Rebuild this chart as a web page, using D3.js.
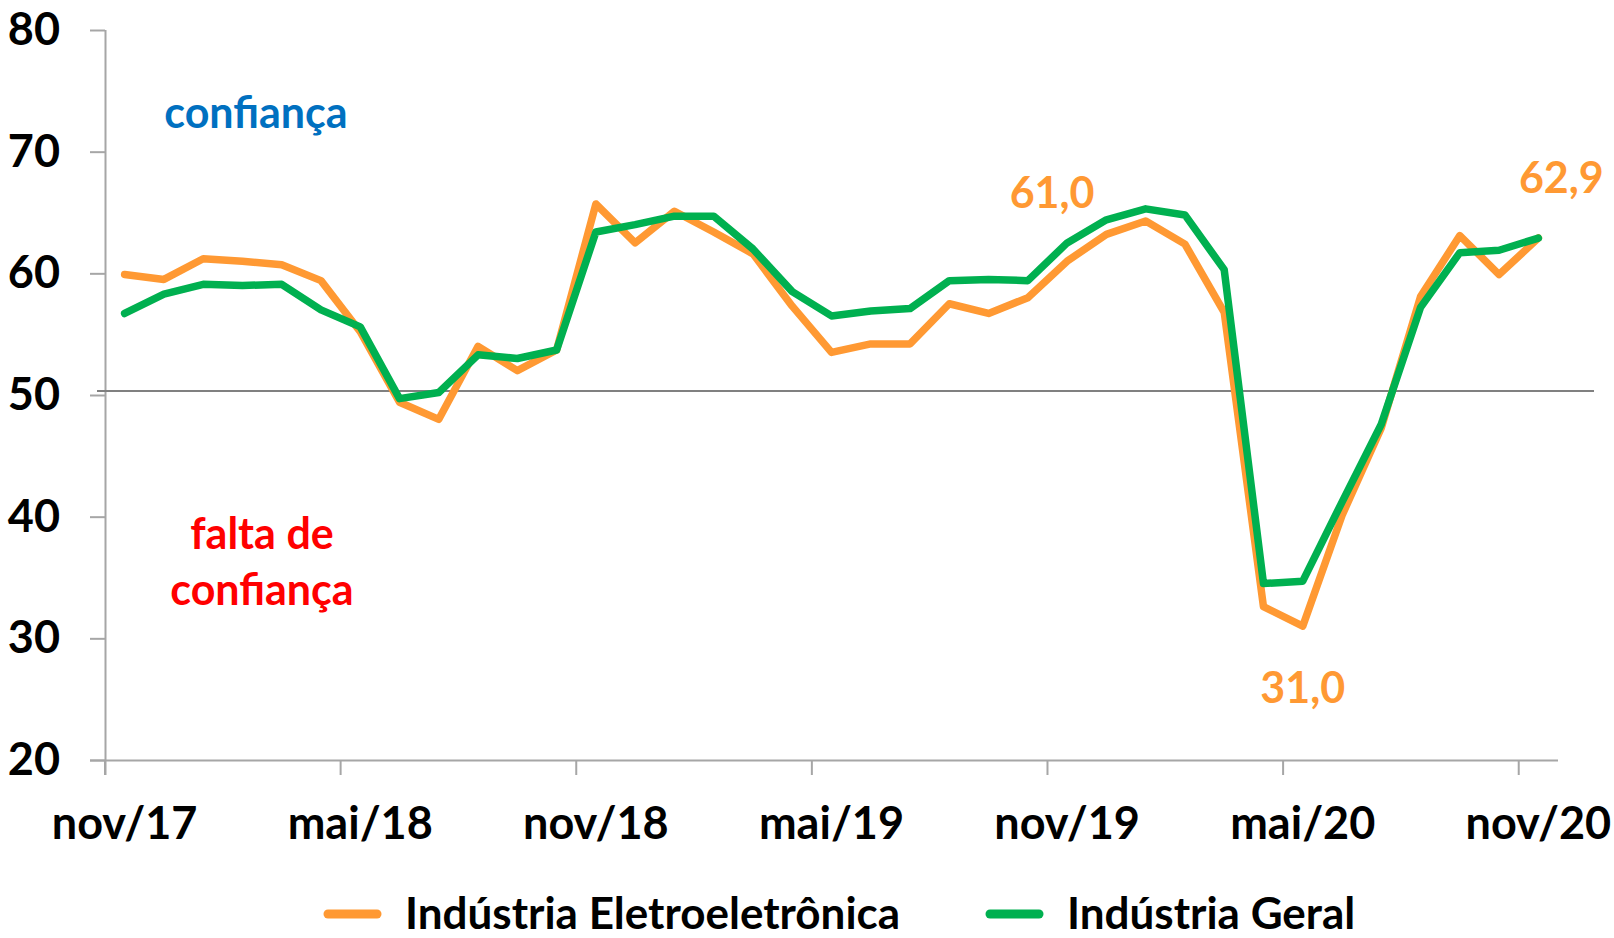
<!DOCTYPE html>
<meta charset="UTF-8">

<style>
    body { margin: 0; background: #fff; }
    text { font-family: Lato, "Open Sans", sans-serif; font-weight: bold; }
</style>

<svg width="1614" height="938"></svg>
<script src="https://d3js.org/d3.v7.min.js"></script>
<script>

// months nov/17 .. nov/20
var months = ["nov/17","dez/17","jan/18","fev/18","mar/18","abr/18","mai/18","jun/18","jul/18","ago/18","set/18","out/18",
              "nov/18","dez/18","jan/19","fev/19","mar/19","abr/19","mai/19","jun/19","jul/19","ago/19","set/19","out/19",
              "nov/19","dez/19","jan/20","fev/20","mar/20","abr/20","mai/20","jun/20","jul/20","ago/20","set/20","out/20","nov/20"];

var eletro = [59.9, 59.5, 61.2, 61.0, 60.7, 59.4, 55.2, 49.4, 48.0, 54.0, 52.0, 53.7,
              65.7, 62.5, 65.1, 63.4, 61.6, 57.3, 53.5, 54.2, 54.2, 57.5, 56.7, 58.0,
              61.0, 63.2, 64.3, 62.4, 56.8, 32.6, 31.0, 40.1, 47.3, 58.1, 63.1, 59.9, 62.9];

var geral = [56.7, 58.3, 59.1, 59.0, 59.1, 57.0, 55.6, 49.7, 50.2, 53.3, 53.0, 53.7,
             63.4, 64.0, 64.7, 64.7, 62.0, 58.5, 56.5, 56.9, 57.1, 59.4, 59.5, 59.4,
             62.5, 64.4, 65.3, 64.8, 60.3, 34.5, 34.7, 41.2, 47.6, 57.2, 61.7, 61.9, 62.9];

var yTicks = [20, 30, 40, 50, 60, 70, 80];
var xTickLabels = ["nov/17","mai/18","nov/18","mai/19","nov/19","mai/20","nov/20"];
var seriesNames = ["Indústria Eletroeletrônica", "Indústria Geral"];
var neutral = 50;
var labelledMonths = ["nov/19", "mai/20", "nov/20"];   // eletro values that get a data label

var svg = d3.select("svg"),
    margin = {top: 30, right: 56, bottom: 178, left: 105},
    width = +svg.attr("width") - margin.left - margin.right,
    height = +svg.attr("height") - margin.top - margin.bottom,
    g = svg.append("g").attr("transform", "translate(" + margin.left + "," + margin.top + ")");

var orange = "#FF9933", green = "#00B050", axisGrey = "#A6A6A6";

var x = d3.scaleBand().domain(months).range([0, width]).padding(0);
var y = d3.scaleLinear().domain([20, 80]).range([height, 0]);
var cx = function(m) { return x(m) + x.bandwidth() / 2; };

// y axis
var yAxis = g.append("g")
    .call(d3.axisLeft(y).tickValues(yTicks).tickSize(15).tickPadding(30).tickFormat(d3.format("d")));
yAxis.selectAll("text").attr("font-size", 45).attr("fill", "#000");

// x axis: ticks on category boundaries, labels on category centres
var xAxis = g.append("g")
    .attr("transform", "translate(0," + height + ")")
    .call(d3.axisBottom(x).tickValues(xTickLabels).tickSize(15).tickFormat(""));
xAxis.selectAll(".tick").attr("transform", function(d) { return "translate(" + x(d) + ",0)"; });
xAxis.selectAll(".tick text").remove();
g.append("g").selectAll("text")
    .data(xTickLabels)
    .enter().append("text")
    .attr("x", cx)
    .attr("y", height + 79)
    .attr("text-anchor", "middle")
    .attr("font-size", 45)
    .text(function(d) { return d; });

svg.selectAll(".domain, .tick line").attr("stroke", axisGrey).attr("stroke-width", 2);
xAxis.select(".domain").attr("d", "M-15,0.5H" + width);
yAxis.select(".domain").attr("d", "M0.5," + y(80) + "V" + (height + 15));

// neutral line at 50
g.append("line")
    .attr("x1", -8).attr("x2", width + 36)
    .attr("y1", y(neutral) - 4).attr("y2", y(neutral) - 4)
    .attr("stroke", "#808080")
    .attr("stroke-width", 2);

// region notes
g.append("text").attr("x", 151).attr("y", 98).attr("text-anchor", "middle")
    .attr("font-size", 43).attr("fill", "#0070C0").text("confiança");
g.append("text").attr("x", 157).attr("y", 519).attr("text-anchor", "middle")
    .attr("font-size", 43).attr("fill", "#FF0000").text("falta de");
g.append("text").attr("x", 157).attr("y", 575).attr("text-anchor", "middle")
    .attr("font-size", 43).attr("fill", "#FF0000").text("confiança");

var line = d3.line()
    .x(function(d, i) { return cx(months[i]); })
    .y(function(d) { return y(d); });

g.append("path")
    .datum(eletro)
    .attr("fill", "none")
    .attr("stroke", orange)
    .attr("stroke-linejoin", "round")
    .attr("stroke-linecap", "round")
    .attr("stroke-width", 7.5)
    .attr("d", line);

g.append("path")
    .datum(geral)
    .attr("fill", "none")
    .attr("stroke", green)
    .attr("stroke-linejoin", "round")
    .attr("stroke-linecap", "round")
    .attr("stroke-width", 7.5)
    .attr("d", line);

// data labels
var fmt = function(v) { return d3.format(".1f")(v).replace(".", ","); };
var labelOffset = {"nov/19": [-15, -53], "mai/20": [0, 77], "nov/20": [23, -45]};
g.selectAll(".dlabel")
    .data(labelledMonths)
    .enter().append("text")
    .attr("class", "dlabel")
    .attr("x", function(m) { return cx(m) + labelOffset[m][0]; })
    .attr("y", function(m) { return y(eletro[months.indexOf(m)]) + labelOffset[m][1]; })
    .attr("text-anchor", "middle")
    .attr("font-size", 43)
    .attr("fill", orange)
    .text(function(m) { return fmt(eletro[months.indexOf(m)]); });

// legend
var legend = svg.append("g").selectAll("g")
    .data(seriesNames)
    .enter().append("g")
    .attr("transform", function(d, i) { return "translate(" + (i === 0 ? 324 : 986) + ",914)"; });
legend.append("line")
    .attr("x1", 4).attr("x2", 53)
    .attr("stroke", function(d, i) { return i === 0 ? orange : green; })
    .attr("stroke-width", 9)
    .attr("stroke-linecap", "round");
legend.append("text")
    .attr("x", 81).attr("y", 15)
    .attr("font-size", 44)
    .text(function(d) { return d; });

</script>
